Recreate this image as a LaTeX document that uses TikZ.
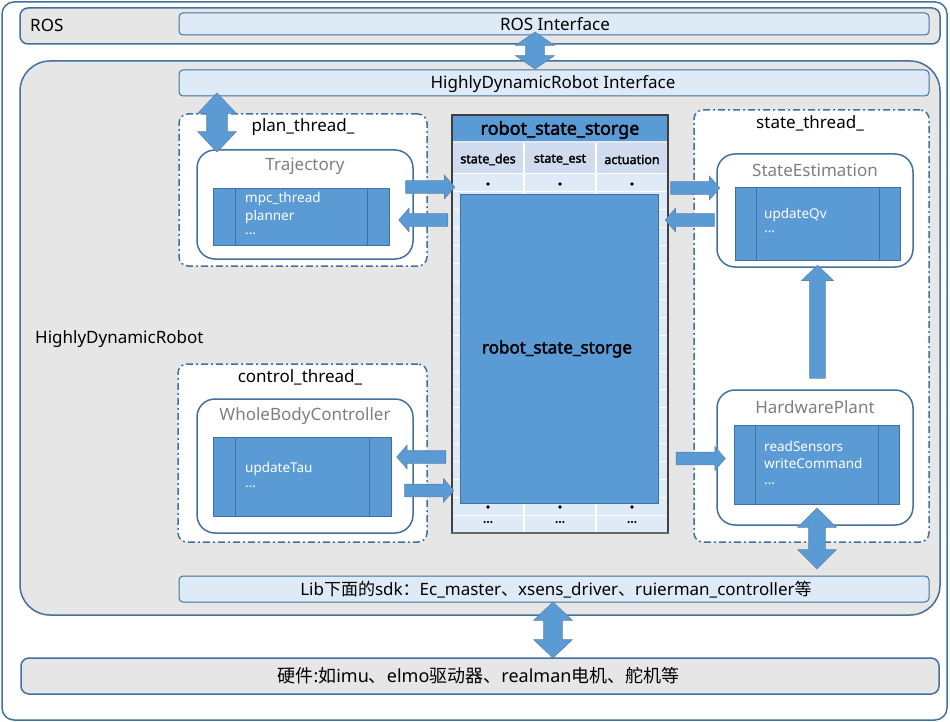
\documentclass[tikz,border=0pt]{standalone}
\usepackage{fontspec}
\setmainfont{Noto Sans}[AutoFakeBold=2.2]
\newfontfamily\cjk{Noto Sans CJK SC}
\usetikzlibrary{shapes.arrows}
\definecolor{bord}{HTML}{41719C}
\definecolor{blu}{HTML}{5B9BD5}
\definecolor{lblu}{HTML}{DEEBF7}
\definecolor{hblu}{HTML}{D0DCEE}
\definecolor{gry}{HTML}{E7E6E6}
\definecolor{ttl}{HTML}{7F7F7F}
\definecolor{tbord}{HTML}{404040}
\tikzset{
  box/.style={anchor=north west, inner sep=0pt, outer sep=0pt},
  frame/.style={box, draw=bord, line width=1.5pt},
  bar/.style={box, draw=bord, line width=1pt, fill=lblu, rounded corners=4pt},
  thr/.style={box, draw=bord, line width=1.5pt, fill=white, rounded corners=9pt, dash pattern=on 7pt off 3pt on 2pt off 3pt},
  cls/.style={box, draw=bord, line width=1.5pt, fill=white, rounded corners=18pt},
  proc/.style={box, draw=bord, line width=0.8pt, fill=blu},
  lab/.style={font=\fontsize{17}{20}\selectfont, text=black, inner sep=0pt},
  ttltxt/.style={font=\fontsize{17}{20}\selectfont, text=ttl, inner sep=0pt},
  itxt/.style={font=\fontsize{13.5}{16}\selectfont, text=white, anchor=base west, inner sep=0pt},
  btxt/.style={font=\fontsize{18}{22}\selectfont\bfseries, text=black, inner sep=0pt},
  ctxt/.style={font=\fontsize{12.5}{15}\selectfont\bfseries, text=black, inner sep=0pt},
  sarr/.style={single arrow, fill=blu, draw=bord!85, line width=0.6pt, inner xsep=0pt, inner ysep=6pt,
    single arrow head extend=5.5pt, single arrow tip angle=98, minimum height=49pt, anchor=center},
  darr/.style={double arrow, fill=blu, draw=bord!85, line width=0.6pt, inner xsep=0pt, rotate=90, anchor=center},
  dotc/.style={circle, fill=black, inner sep=0pt, minimum size=3.6pt}
}
\begin{document}
\begin{tikzpicture}[x=1pt,y=-1pt]
\useasboundingbox (0,0) rectangle (950,722);
% outer frame
\node[frame, fill=white, rounded corners=12pt, minimum width=945pt, minimum height=718pt] (outer) at (2,2) {};
% ROS
\node[frame, fill=gry, rounded corners=8pt, minimum width=920pt, minimum height=36pt] (ros) at (20,8) {};
\node[lab, anchor=west] (roslab) at (30,25.5) {ROS};
\node[bar, minimum width=750pt, minimum height=22pt] (rosif) at (179,13) {};
\node[lab] (rosiftxt) at (555,24.5) {ROS Interface};
% HDR
\node[frame, fill=gry, rounded corners=30pt, minimum width=920pt, minimum height=554pt] (hdr) at (20,61) {};
\node[bar, minimum width=750pt, minimum height=26pt] (hdrif) at (179,70) {};
\node[lab] (hdriftxt) at (553,84) {HighlyDynamicRobot Interface};
\node[lab, anchor=west] (hdrlab) at (35,339.5) {HighlyDynamicRobot};
% plan thread
\node[thr, minimum width=248pt, minimum height=152pt] (plan) at (179,114) {};
\node[lab] (planlab) at (303,127.5) {plan\_thread\_};
\node[cls, minimum width=216pt, minimum height=109pt] (traj) at (197,150) {};
\node[ttltxt] (trajlab) at (305,166.5) {Trajectory};
\node[proc, minimum width=176pt, minimum height=57pt] (trajp) at (213,188) {};
\draw[bord, line width=0.8pt] ([xshift=22.5pt]trajp.north west) -- ([xshift=22.5pt]trajp.south west);
\draw[bord, line width=0.8pt] ([xshift=-21.5pt]trajp.north east) -- ([xshift=-21.5pt]trajp.south east);
\node[itxt] (t1) at (245,203) {mpc\_thread};
\node[itxt] (t2) at (245,220.5) {planner};
\node[itxt] (t3) at (245,234) {...};
% control thread
\node[thr, minimum width=249pt, minimum height=178pt] (ctrl) at (178,364) {};
\node[lab] (ctrllab) at (300,377) {control\_thread\_};
\node[cls, minimum width=216pt, minimum height=134pt] (wbc) at (197,399) {};
\node[ttltxt] (wbclab) at (305,416.5) {WholeBodyController};
\node[proc, minimum width=178pt, minimum height=79pt] (wbcp) at (213,437) {};
\draw[bord, line width=0.8pt] ([xshift=22.5pt]wbcp.north west) -- ([xshift=22.5pt]wbcp.south west);
\draw[bord, line width=0.8pt] ([xshift=-22pt]wbcp.north east) -- ([xshift=-22pt]wbcp.south east);
\node[itxt] (w1) at (245,472) {updateTau};
\node[itxt] (w2) at (245,487) {...};
% state thread
\node[thr, minimum width=235pt, minimum height=432pt] (state) at (694,110) {};
\node[lab] (statelab) at (810,123.5) {state\_thread\_};
\node[cls, minimum width=196pt, minimum height=113pt] (se) at (717,154) {};
\node[ttltxt] (selab) at (815,170.5) {StateEstimation};
\node[proc, minimum width=165pt, minimum height=73pt] (sep) at (735,187) {};
\draw[bord, line width=0.8pt] ([xshift=21pt]sep.north west) -- ([xshift=21pt]sep.south west);
\draw[bord, line width=0.8pt] ([xshift=-21pt]sep.north east) -- ([xshift=-21pt]sep.south east);
\node[itxt] (s1) at (764,218.5) {updateQv};
\node[itxt] (s2) at (764,233) {...};
\node[cls, minimum width=196pt, minimum height=135pt] (hw) at (717,390) {};
\node[ttltxt] (hwlab) at (815,407.5) {HardwarePlant};
\node[proc, minimum width=165pt, minimum height=79pt] (hwp) at (734,425) {};
\draw[bord, line width=0.8pt] ([xshift=21.5pt]hwp.north west) -- ([xshift=21.5pt]hwp.south west);
\draw[bord, line width=0.8pt] ([xshift=-20.5pt]hwp.north east) -- ([xshift=-20.5pt]hwp.south east);
\node[itxt] (h1) at (764,451) {readSensors};
\node[itxt] (h2) at (764,468.5) {writeCommand};
\node[itxt] (h3) at (764,484) {...};
% storage table
\node[box, minimum width=216pt, minimum height=418pt, fill=lblu] (store) at (452,115) {};
\fill[blu] (store.north west) rectangle (668,141);
\fill[hblu] (452,143) rectangle (668,173);
\foreach \k in {0,...,19} \draw[white, line width=1pt] (452,{173.3+18*\k}) -- (668,{173.3+18*\k});
\draw[white, line width=1.5pt] (524,143) -- (524,533);
\draw[white, line width=1.5pt] (596,143) -- (596,533);
\node[btxt] (storetitle) at (560,130) {robot\_state\_storge};
\node[ctxt] (c1) at (488,159.5) {state\_des};
\node[ctxt] (c2) at (560,159.5) {state\_est};
\node[ctxt] (c3) at (632,159.5) {actuation};
\node[dotc] (d1) at (488,184) {};
\node[dotc] (d2) at (560,184) {};
\node[dotc] (d3) at (632,184) {};
\node[proc, minimum width=198pt, minimum height=309pt] (inner) at (460,194) {};
\node[btxt, font=\fontsize{17}{20}\selectfont\bfseries] (innertxt) at (557,349) {robot\_state\_storge};
\node[dotc] (d4) at (488,507) {};
\node[dotc] (d5) at (560,507) {};
\node[dotc] (d6) at (632,507) {};
\node[ctxt] (e1) at (488,522) {...};
\node[ctxt] (e2) at (560,522) {...};
\node[ctxt] (e3) at (632,522) {...};
\draw[tbord, line width=1.5pt] (store.south west) -- (store.north west) -- (store.north east) -- (store.south east);
\draw[tbord!80, line width=2.5pt] ([xshift=-1pt]store.south west) -- ([xshift=1pt]store.south east);
% lib and hardware
\node[bar, minimum width=750pt, minimum height=26pt] (lib) at (179,576) {};
\node[lab] (libtxt) at (556,590) {Lib{\cjk 下面的}sdk{\cjk ：}Ec\_master{\cjk 、}xsens\_driver{\cjk 、}ruierman\_controller{\cjk 等}};
\node[frame, fill=gry, rounded corners=8pt, minimum width=918pt, minimum height=36pt] (hwr) at (21,658) {};
\node[lab, font=\fontsize{18}{21}\selectfont] (hwrtxt) at (478.5,676) {{\cjk 硬件}:{\cjk 如}imu{\cjk 、}elmo{\cjk 驱动器、}realman{\cjk 电机、舵机等}};
% arrows
\node[darr, minimum height=37pt, inner ysep=9pt, double arrow head extend=10pt, double arrow tip angle=111] (arosh) at (535,50.5) {};
\node[darr, minimum height=59pt, inner ysep=10pt, double arrow head extend=9pt, double arrow tip angle=87] (aplan) at (217,122.5) {};
\node[darr, minimum height=61pt, inner ysep=8pt, double arrow head extend=11pt, double arrow tip angle=90] (ahwlib) at (817,538.5) {};
\node[darr, minimum height=56pt, inner ysep=9pt, double arrow head extend=10pt, double arrow tip angle=93] (alibhw) at (553,630) {};
\node[sarr] (a1) at (427.5,187) {};
\node[sarr, rotate=180] (a2) at (426,220) {};
\node[sarr] (a3) at (692.5,188) {};
\node[sarr, rotate=180] (a4) at (692.5,220) {};
\node[sarr, rotate=180] (a5) at (424,457) {};
\node[sarr] (a6) at (426.5,490.5) {};
\node[sarr] (a7) at (698,458.5) {};
\node[single arrow, fill=blu, draw=bord!85, line width=0.6pt, inner xsep=0pt, inner ysep=7.5pt,
  single arrow head extend=8pt, single arrow tip angle=92, minimum height=113pt, rotate=90, anchor=center] (aup) at (817.5,325.5) {};
\end{tikzpicture}
\end{document}
